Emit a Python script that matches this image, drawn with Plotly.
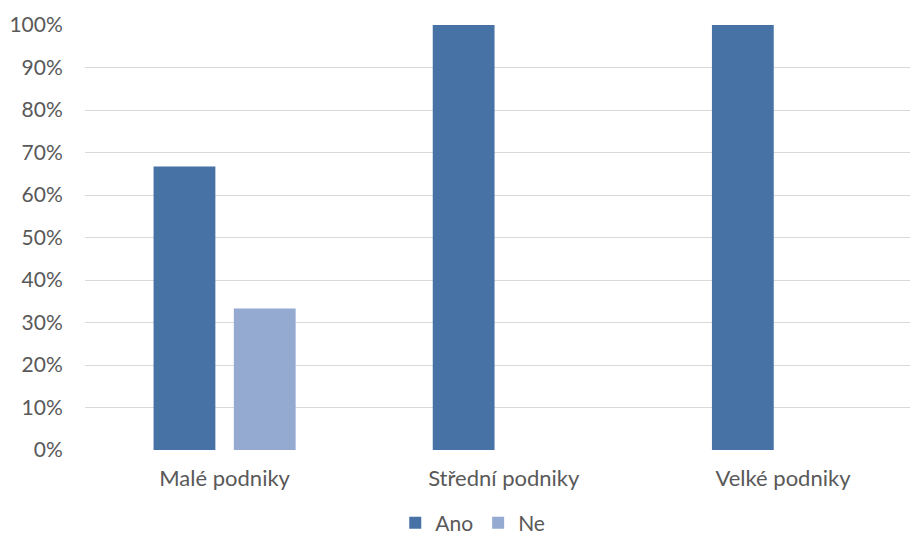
import plotly.graph_objects as go

categories = ["Malé podniky", "Střední podniky", "Velké podniky"]
ano = [0.667, 1.0, 1.0]
ne = [0.333, 0.0, 0.0]
tick_vals = [0, 0.1, 0.2, 0.3, 0.4, 0.5, 0.6, 0.7, 0.8, 0.9, 1.0]
tick_text = ["0%", "10%", "20%", "30%", "40%", "50%", "60%", "70%", "80%", "90%", "100%"]

FONT = "Lato"
TXT = "#595959"

fig = go.Figure()
fig.add_trace(go.Bar(name="Ano", x=categories, y=ano, marker=dict(color="#4672A6", line=dict(width=0))))
fig.add_trace(go.Bar(name="Ne", x=categories, y=ne, marker=dict(color="#95AAD1", line=dict(width=0))))

fig.update_layout(
    width=910, height=536,
    margin=dict(l=85, r=0, t=25, b=86, autoexpand=False),
    paper_bgcolor="white", plot_bgcolor="white",
    barmode="group", bargap=0.425, bargroupgap=0.23,
    font=dict(family=FONT, size=22, color=TXT),
    showlegend=True,
    legend=dict(orientation="h", x=0.47, xanchor="center", y=-0.172, yanchor="middle",
                font=dict(family=FONT, size=21, color=TXT), traceorder="normal",
                itemwidth=30),
    xaxis=dict(range=[-0.5, 2.455], showgrid=False, showline=False, zeroline=False,
               ticks="outside", ticklen=9, tickcolor="rgba(0,0,0,0)", automargin=False,
               tickfont=dict(family=FONT, size=22, color=TXT)),
    yaxis=dict(range=[0, 1], tickvals=tick_vals, ticktext=tick_text, automargin=False,
               showgrid=True, gridcolor="#D9D9D9", gridwidth=1.3, zeroline=False,
               showline=False, ticks="outside", ticklen=17, tickcolor="rgba(0,0,0,0)",
               tickfont=dict(family=FONT, size=21, color=TXT)),
)

fig.write_html("out.html")
